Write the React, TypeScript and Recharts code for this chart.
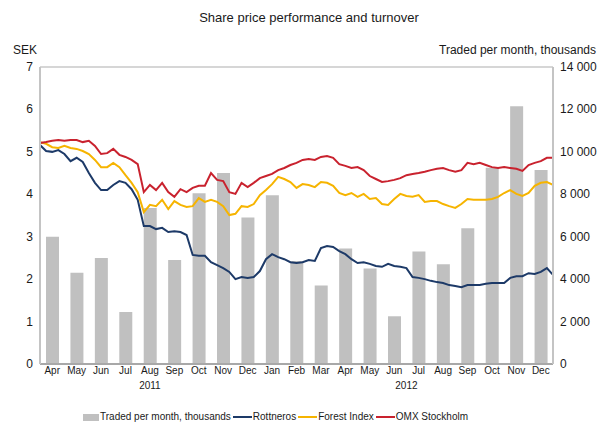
import { ComposedChart, Bar, Line, XAxis, YAxis, CartesianGrid } from 'recharts';

const FONT = '"Liberation Sans", Arial, sans-serif';

// monthly turnover, thousands of shares (Apr 2011 - Dec 2012)
const months = ['Apr', 'May', 'Jun', 'Jul', 'Aug', 'Sep', 'Oct', 'Nov', 'Dec', 'Jan', 'Feb', 'Mar', 'Apr', 'May', 'Jun', 'Jul', 'Aug', 'Sep', 'Oct', 'Nov', 'Dec'];
const traded = [6000, 4300, 5000, 2450, 7350, 4900, 8050, 9000, 6900, 7950, 4850, 3700, 5450, 4500, 2250, 5300, 4700, 6400, 9250, 12150, 9150];

// share prices, SEK, one reading per quarter month (week index 0..84)
const rottneros = [
  5.16, 5.02, 5.0, 5.04, 4.95, 4.78, 4.86, 4.76, 4.5, 4.27,
  4.1, 4.1, 4.22, 4.31, 4.27, 4.12, 3.87, 3.25, 3.25, 3.18,
  3.21, 3.11, 3.13, 3.11, 3.04, 2.57, 2.55, 2.55, 2.4, 2.33,
  2.26, 2.17, 2.0, 2.05, 2.03, 2.05, 2.19, 2.47, 2.59, 2.52,
  2.47, 2.4, 2.38, 2.4, 2.45, 2.43, 2.73, 2.78, 2.76, 2.66,
  2.59, 2.47, 2.38, 2.4, 2.36, 2.31, 2.29, 2.36, 2.31, 2.29,
  2.26, 2.05, 2.03, 2.0, 1.96, 1.93, 1.91, 1.86, 1.84, 1.81,
  1.86, 1.86, 1.86, 1.89, 1.91, 1.91, 1.91, 2.03, 2.07, 2.07,
  2.14, 2.12, 2.17, 2.26, 2.1,
];
const forestIndex = [
  5.23, 5.19, 5.11, 5.09, 5.14, 5.09, 5.07, 5.02, 4.95, 4.81,
  4.64, 4.64, 4.74, 4.64, 4.45, 4.27, 4.05, 3.58, 3.75, 3.72,
  3.87, 3.65, 3.84, 3.75, 3.7, 3.72, 3.91, 3.82, 3.87, 3.82,
  3.72, 3.51, 3.54, 3.72, 3.7, 3.77, 3.98, 4.1, 4.24, 4.41,
  4.36, 4.29, 4.15, 4.24, 4.22, 4.17, 4.29, 4.27, 4.2, 4.03,
  3.98, 4.03, 3.94, 4.01, 3.89, 3.91, 3.77, 3.75, 3.89, 4.01,
  3.96, 3.94, 3.98, 3.82, 3.84, 3.84, 3.77, 3.72, 3.68, 3.77,
  3.89, 3.87, 3.87, 3.87, 3.89, 3.94, 4.03, 4.1, 4.01, 3.96,
  4.03, 4.2, 4.27, 4.29, 4.22,
];
const omxStockholm = [
  5.21, 5.23, 5.26, 5.28, 5.26, 5.28, 5.28, 5.23, 5.26, 5.14,
  4.95, 4.97, 5.07, 4.93, 4.88, 4.81, 4.71, 4.05, 4.22, 4.1,
  4.27, 4.05, 3.94, 4.12, 4.05, 4.15, 4.2, 4.2, 4.5, 4.34,
  4.31, 4.05, 4.01, 4.27, 4.17, 4.27, 4.38, 4.43, 4.48, 4.57,
  4.62, 4.69, 4.74, 4.81, 4.83, 4.81, 4.88, 4.9, 4.86, 4.71,
  4.67, 4.62, 4.64, 4.57, 4.43, 4.36, 4.29, 4.31, 4.34, 4.38,
  4.45, 4.48, 4.5, 4.53, 4.57, 4.6, 4.62, 4.57, 4.53, 4.57,
  4.74, 4.71, 4.74, 4.69, 4.64, 4.62, 4.64, 4.62, 4.6, 4.55,
  4.69, 4.74, 4.78, 4.86, 4.86,
];

const sekTicks = [0, 1, 2, 3, 4, 5, 6, 7];
const tradedTicks = [0, 2000, 4000, 6000, 8000, 10000, 12000, 14000];
const gridTicks = [0, 1, 2, 3, 4, 5, 6];
const yearTicks = [18, 60];
const yearLabels = ['2011', '2012'];

const fmtThousands = (v: number) => String(v).replace(/\B(?=(\d{3})+(?!\d))/g, ' ');

const legendItems = [
  { label: 'Rottneros', color: '#1d3a68' },
  { label: 'Forest Index', color: '#f6b400' },
  { label: 'OMX Stockholm', color: '#c9222e' },
];

function LeftTick({ x, y, payload }: any) {
  return (
    <text x={x} y={y} dy={4} textAnchor="end" fontSize={12} fill="#1a1a1a" fontFamily={FONT}>
      {payload.value}
    </text>
  );
}

function RightTick({ x, y, payload }: any) {
  return (
    <text x={x} y={y} dy={4} textAnchor="start" fontSize={12} fill="#1a1a1a" fontFamily={FONT}>
      {fmtThousands(payload.value)}
    </text>
  );
}

export default function App() {
  const barData = months.map((m, i) => ({ month: m, traded: traded[i] }));
  const lineData = rottneros.map((v, i) => ({
    week: i,
    rottneros: v,
    forest: forestIndex[i],
    omx: omxStockholm[i],
  }));

  const monthTick = { fontSize: 10, fill: '#1a1a1a', fontFamily: FONT };

  return (
    <div
      style={{
        position: 'absolute',
        left: 0,
        top: 0,
        width: 603,
        height: 423,
        background: '#fff',
        fontFamily: FONT,
        color: '#1a1a1a',
      }}
    >
      <ComposedChart width={603} height={423} data={barData} margin={{ top: 67, right: 0, bottom: 29, left: 10 }}>
        <CartesianGrid yAxisId="grid" xAxisId="month" vertical={false} stroke="#c8c8c8" strokeWidth={1.5} />
        <XAxis
          xAxisId="month"
          dataKey="month"
          interval={0}
          tickSize={0}
          tickMargin={3}
          height={14}
          tick={monthTick}
          axisLine={{ stroke: '#a8a8a8', strokeWidth: 2 }}
        />
        <XAxis
          xAxisId="time"
          type="number"
          dataKey="week"
          domain={[0, 84]}
          ticks={yearTicks}
          tickFormatter={(v: number) => yearLabels[yearTicks.indexOf(v)]}
          allowDataOverflow
          axisLine={false}
          tickSize={0}
          tickMargin={4}
          height={16}
          tick={monthTick}
        />
        <YAxis
          yAxisId="sek"
          domain={[0, 7]}
          ticks={sekTicks}
          width={30}
          tickSize={0}
          tickMargin={7}
          tick={<LeftTick />}
          axisLine={{ stroke: '#c4c4c4', strokeWidth: 2 }}
        />
        <YAxis
          yAxisId="traded"
          orientation="right"
          domain={[0, 14000]}
          ticks={tradedTicks}
          width={50}
          tickSize={0}
          tickMargin={7}
          tick={<RightTick />}
          axisLine={{ stroke: '#c4c4c4', strokeWidth: 2 }}
        />
        <YAxis yAxisId="grid" hide width={0} domain={[0, 6]} ticks={gridTicks} />
        <Bar
          xAxisId="month"
          yAxisId="traded"
          dataKey="traded"
          fill="#c0c0c0"
          barSize={13}
          isAnimationActive={false}
        />
        <Line
          data={lineData}
          xAxisId="time"
          yAxisId="sek"
          dataKey="rottneros"
          stroke="#1d3a68"
          strokeWidth={2}
          dot={false}
          isAnimationActive={false}
        />
        <Line
          data={lineData}
          xAxisId="time"
          yAxisId="sek"
          dataKey="forest"
          stroke="#f6b400"
          strokeWidth={2}
          dot={false}
          isAnimationActive={false}
        />
        <Line
          data={lineData}
          xAxisId="time"
          yAxisId="sek"
          dataKey="omx"
          stroke="#c9222e"
          strokeWidth={2}
          dot={false}
          isAnimationActive={false}
        />
      </ComposedChart>

      <div style={{ position: 'absolute', top: 10, left: 0, width: 618, textAlign: 'center', fontSize: 13, lineHeight: '15px' }}>
        Share price performance and turnover
      </div>
      <div style={{ position: 'absolute', top: 43, left: 13, fontSize: 12, lineHeight: '14px' }}>SEK</div>
      <div style={{ position: 'absolute', top: 43, right: 7, fontSize: 12, lineHeight: '14px' }}>
        Traded per month, thousands
      </div>

      <div
        style={{
          position: 'absolute',
          top: 411,
          left: 83,
          display: 'flex',
          alignItems: 'center',
          fontSize: 10,
          lineHeight: '12px',
        }}
      >
        <span style={{ display: 'inline-block', width: 16, height: 7, background: '#c0c0c0', marginRight: 1 }} />
        <span>Traded per month, thousands</span>
        {legendItems.map((it) => (
          <span key={it.label} style={{ display: 'flex', alignItems: 'center', marginLeft: 2 }}>
            <span style={{ display: 'inline-block', width: 19, height: 2, background: it.color, marginRight: 1 }} />
            <span>{it.label}</span>
          </span>
        ))}
      </div>
    </div>
  );
}
